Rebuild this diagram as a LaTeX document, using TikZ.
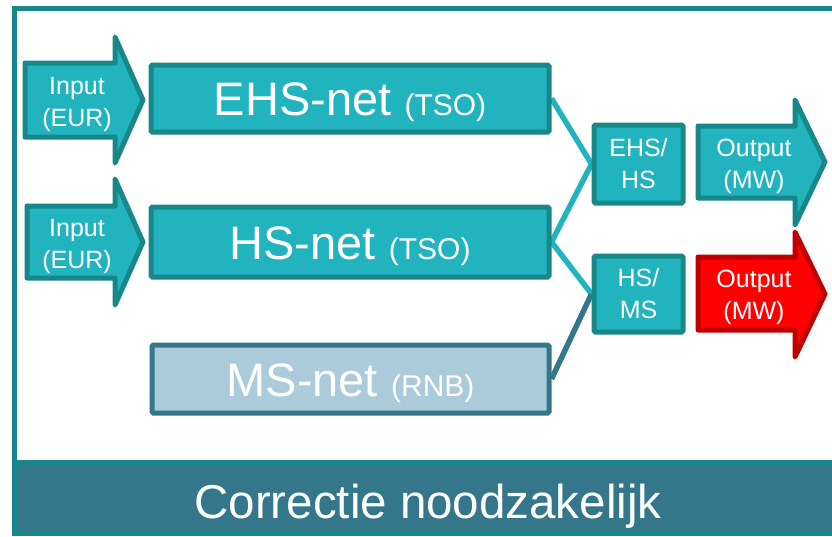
\documentclass[tikz,border=0pt]{standalone}
\usepackage{fontspec}
\setmainfont{Liberation Sans}
\usetikzlibrary{backgrounds}
\definecolor{tealfill}{HTML}{21B3BE}
\definecolor{tealline}{HTML}{17878A}
\definecolor{msfill}{HTML}{ABCBDB}
\definecolor{darkblue}{HTML}{34778B}
\definecolor{redfill}{HTML}{FF0000}
\definecolor{redline}{HTML}{C00000}
\newcommand\mytagfont{\fontsize{30}{30}\selectfont}
\begin{document}
\begin{tikzpicture}[x=1pt,y=-1pt,
  netbox/.style={draw=tealline, fill=tealfill, line width=5pt, rounded corners=1.5pt,
     inner sep=0pt, text=white, text height=34pt, text depth=0pt,
     font=\fontsize{47}{47}\selectfont},
  msbox/.style={netbox, draw=darkblue, fill=msfill},
  smallbox/.style={draw=tealline, fill=tealfill, line width=5pt, rounded corners=1.5pt,
     inner sep=0pt, text=white, align=center, font=\fontsize{25}{32}\selectfont},
  arrowshape/.style={draw=tealline, fill=tealfill, line width=5pt, line join=round},
  redarrow/.style={draw=redline, fill=redfill, line width=5pt, line join=round},
  lbl/.style={text=white, align=center, inner sep=0pt, font=\fontsize{25}{32}\selectfont},
  conn/.style={draw=tealfill, line width=5.5pt},
  darkconn/.style={draw=darkblue, line width=5.5pt},
  frameline/.style={draw=tealline, line width=5pt}]
\useasboundingbox (0,0) rectangle (832,536);
\clip (0,0) rectangle (832,536);
% frame and band
\draw[frameline] (14,8.5) rectangle (845,462);
\draw[frameline, fill=darkblue] (14,462) rectangle (845,533);
\node[text=white, inner sep=0pt, anchor=base, font=\fontsize{47.5}{47.5}\selectfont] (corr) at (428,518) {Correctie noodzakelijk};
% input arrows
\draw[arrowshape] (25,63) -- (115,63) -- (115,37) -- (143,100) -- (115,163) -- (115,137) -- (25,137) -- cycle;
\node[lbl] (in1) at (77,104) {Input\\(EUR)};
\draw[arrowshape] (27,206) -- (115,206) -- (115,179) -- (143,242) -- (115,305) -- (115,278) -- (27,278) -- cycle;
\node[lbl] (in2) at (77,246) {Input\\(EUR)};
% net boxes
\node[netbox, minimum width=398pt, minimum height=67pt] (ehs) at (350,98.5) {EHS-net {\mytagfont (TSO)}};
\node[netbox, minimum width=398pt, minimum height=70pt] (hs) at (350,242) {HS-net {\mytagfont (TSO)}};
\node[msbox, minimum width=397pt, minimum height=68pt] (ms) at (350.5,379) {MS-net {\mytagfont (RNB)}};
% transformer boxes
\node[smallbox, minimum width=89pt, minimum height=78pt] (ehshs) at (638.5,164) {EHS/\\HS};
\node[smallbox, minimum width=89pt, minimum height=76pt] (hsms) at (638.5,294) {HS/\\MS};
% connectors
\begin{pgfonlayer}{background}
\draw[conn] (ehs.east) -- (ehshs.west);
\draw[conn] (hs.east) -- (ehshs.west);
\draw[conn] (hs.east) -- (hsms.west);
\draw[darkconn] (ms.east) -- (hsms.west);
\end{pgfonlayer}
% output arrows
\draw[arrowshape] (698,126) -- (795,126) -- (795,100) -- (825,162) -- (795,225) -- (795,198) -- (698,198) -- cycle;
\node[lbl] (out1) at (754,166) {Output\\(MW)};
\draw[redarrow] (698,257) -- (795,257) -- (795,232) -- (825,294) -- (795,357) -- (795,330) -- (698,330) -- cycle;
\node[lbl] (out2) at (754,297) {Output\\(MW)};
\end{tikzpicture}
\end{document}
